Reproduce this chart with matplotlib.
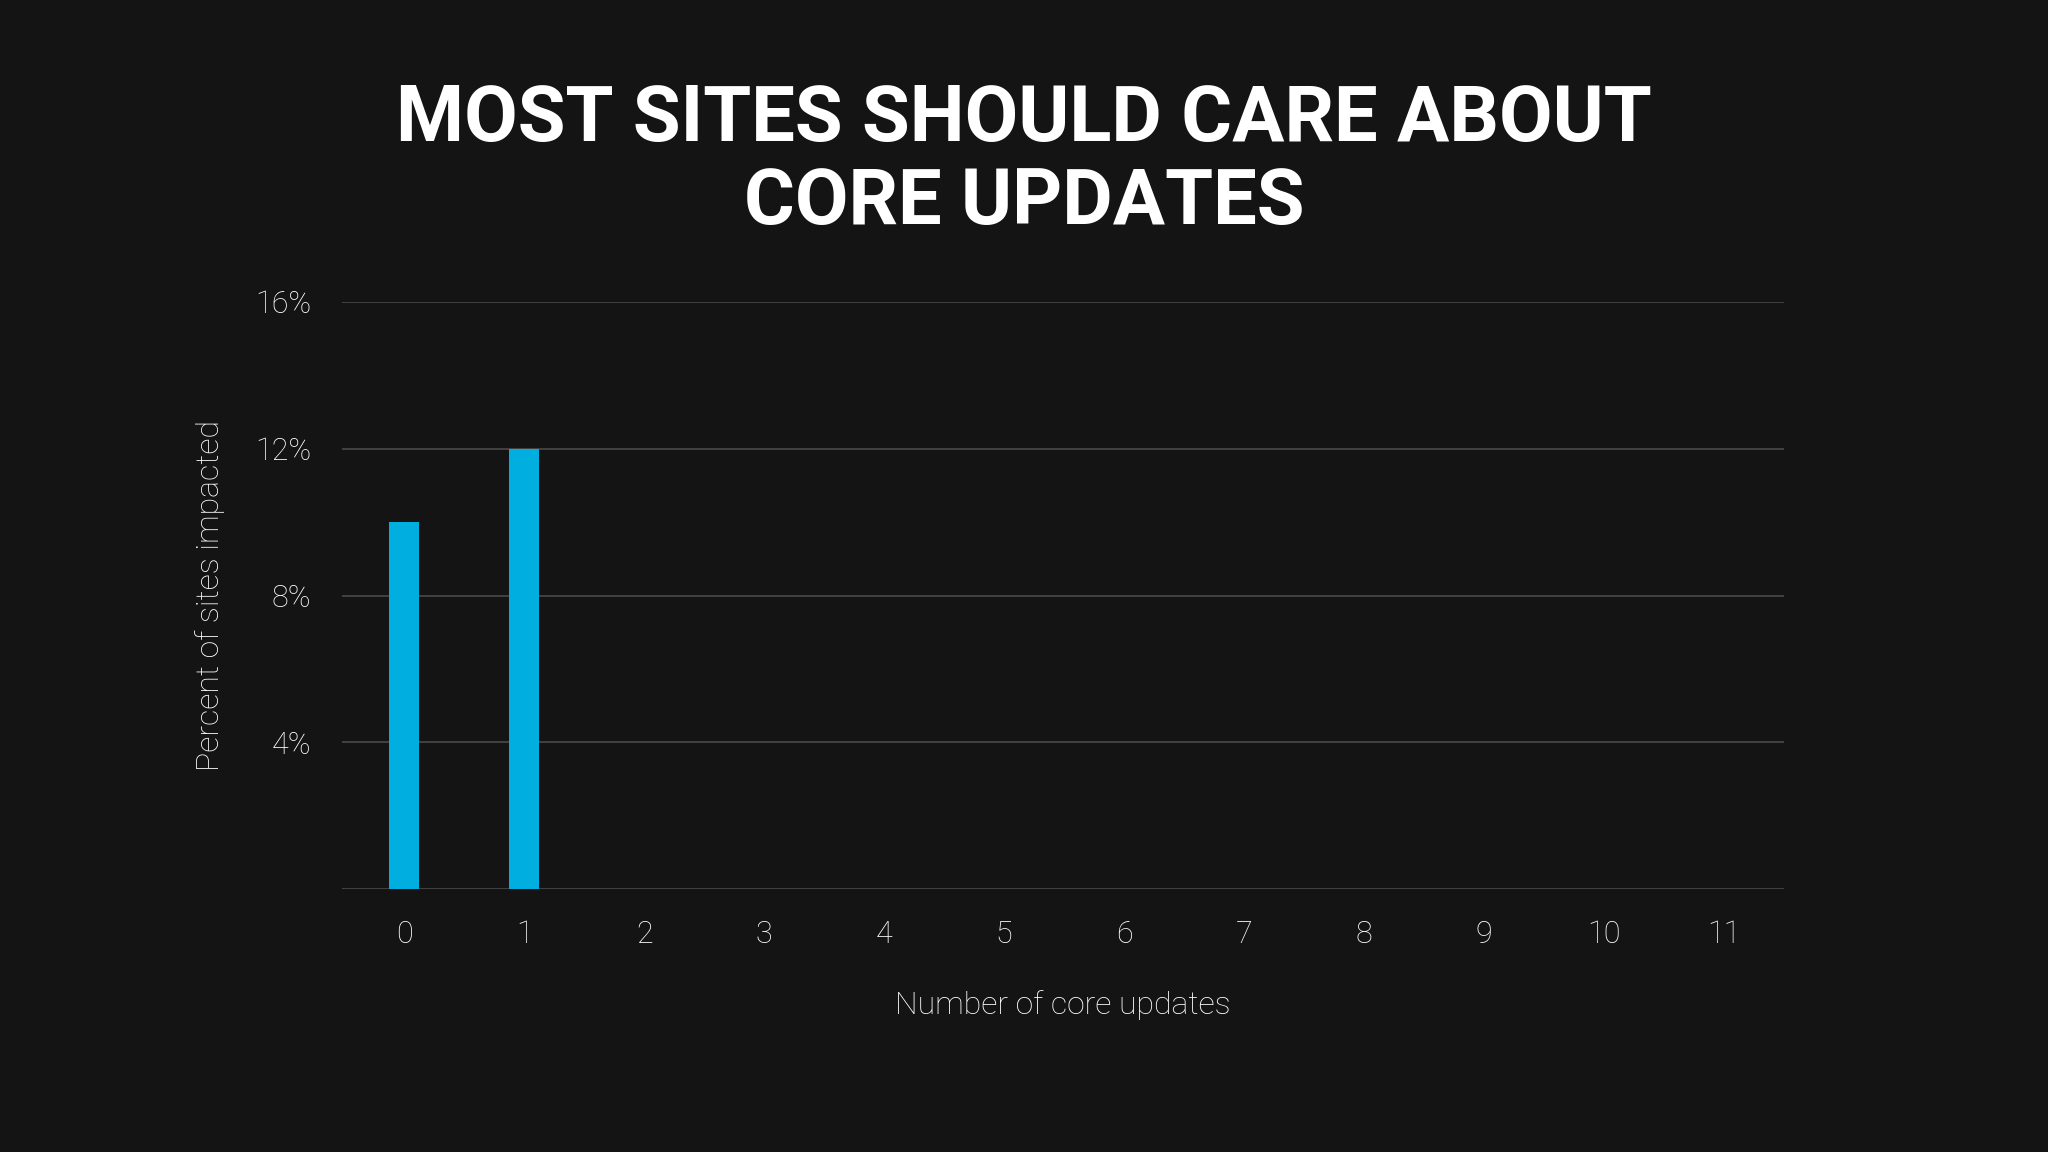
import matplotlib
matplotlib.use("Agg")
import matplotlib.pyplot as plt

categories = list(range(12))
values = [10, 12, 0, 0, 0, 0, 0, 0, 0, 0, 0, 0]
yticks = [4, 8, 12, 16]
ytick_labels = ["4%", "8%", "12%", "16%"]

bg = "#141414"
fig = plt.figure(figsize=(20.48, 11.52), dpi=100, facecolor=bg)
ax = fig.add_axes([0.167, 0.228, 0.704, 0.510], facecolor=bg)
ax.bar(categories, values, width=0.25, color="#00AEE0", zorder=3)
ax.set_xlim(-0.52, 11.5)
ax.set_ylim(0, 16)
ax.set_yticks(yticks)
ax.set_yticklabels(ytick_labels)
ax.set_xticks(categories)
for y in [0] + yticks:
    ax.axhline(y, color="#4a4a4a", lw=1.2, zorder=1)
for s in ax.spines.values():
    s.set_visible(False)
ax.tick_params(length=0, colors="white", labelsize=22, pad=22)
for lab in ax.get_xticklabels() + ax.get_yticklabels():
    lab.set_fontfamily("Roboto")
    lab.set_fontweight("light")
ax.set_xlabel("Number of core updates", color="white", fontsize=23,
              fontfamily="Roboto", fontweight="light", labelpad=30)
ax.set_ylabel("Percent of sites impacted", color="white", fontsize=23,
              fontfamily="Roboto", fontweight="light", labelpad=22)
fig.text(0.5, 0.86, "MOST SITES SHOULD CARE ABOUT\nCORE UPDATES", color="white",
         fontsize=56, fontweight="bold", fontfamily="Roboto", ha="center",
         va="center", linespacing=1.15)
fig.savefig("out.png", facecolor=bg)
